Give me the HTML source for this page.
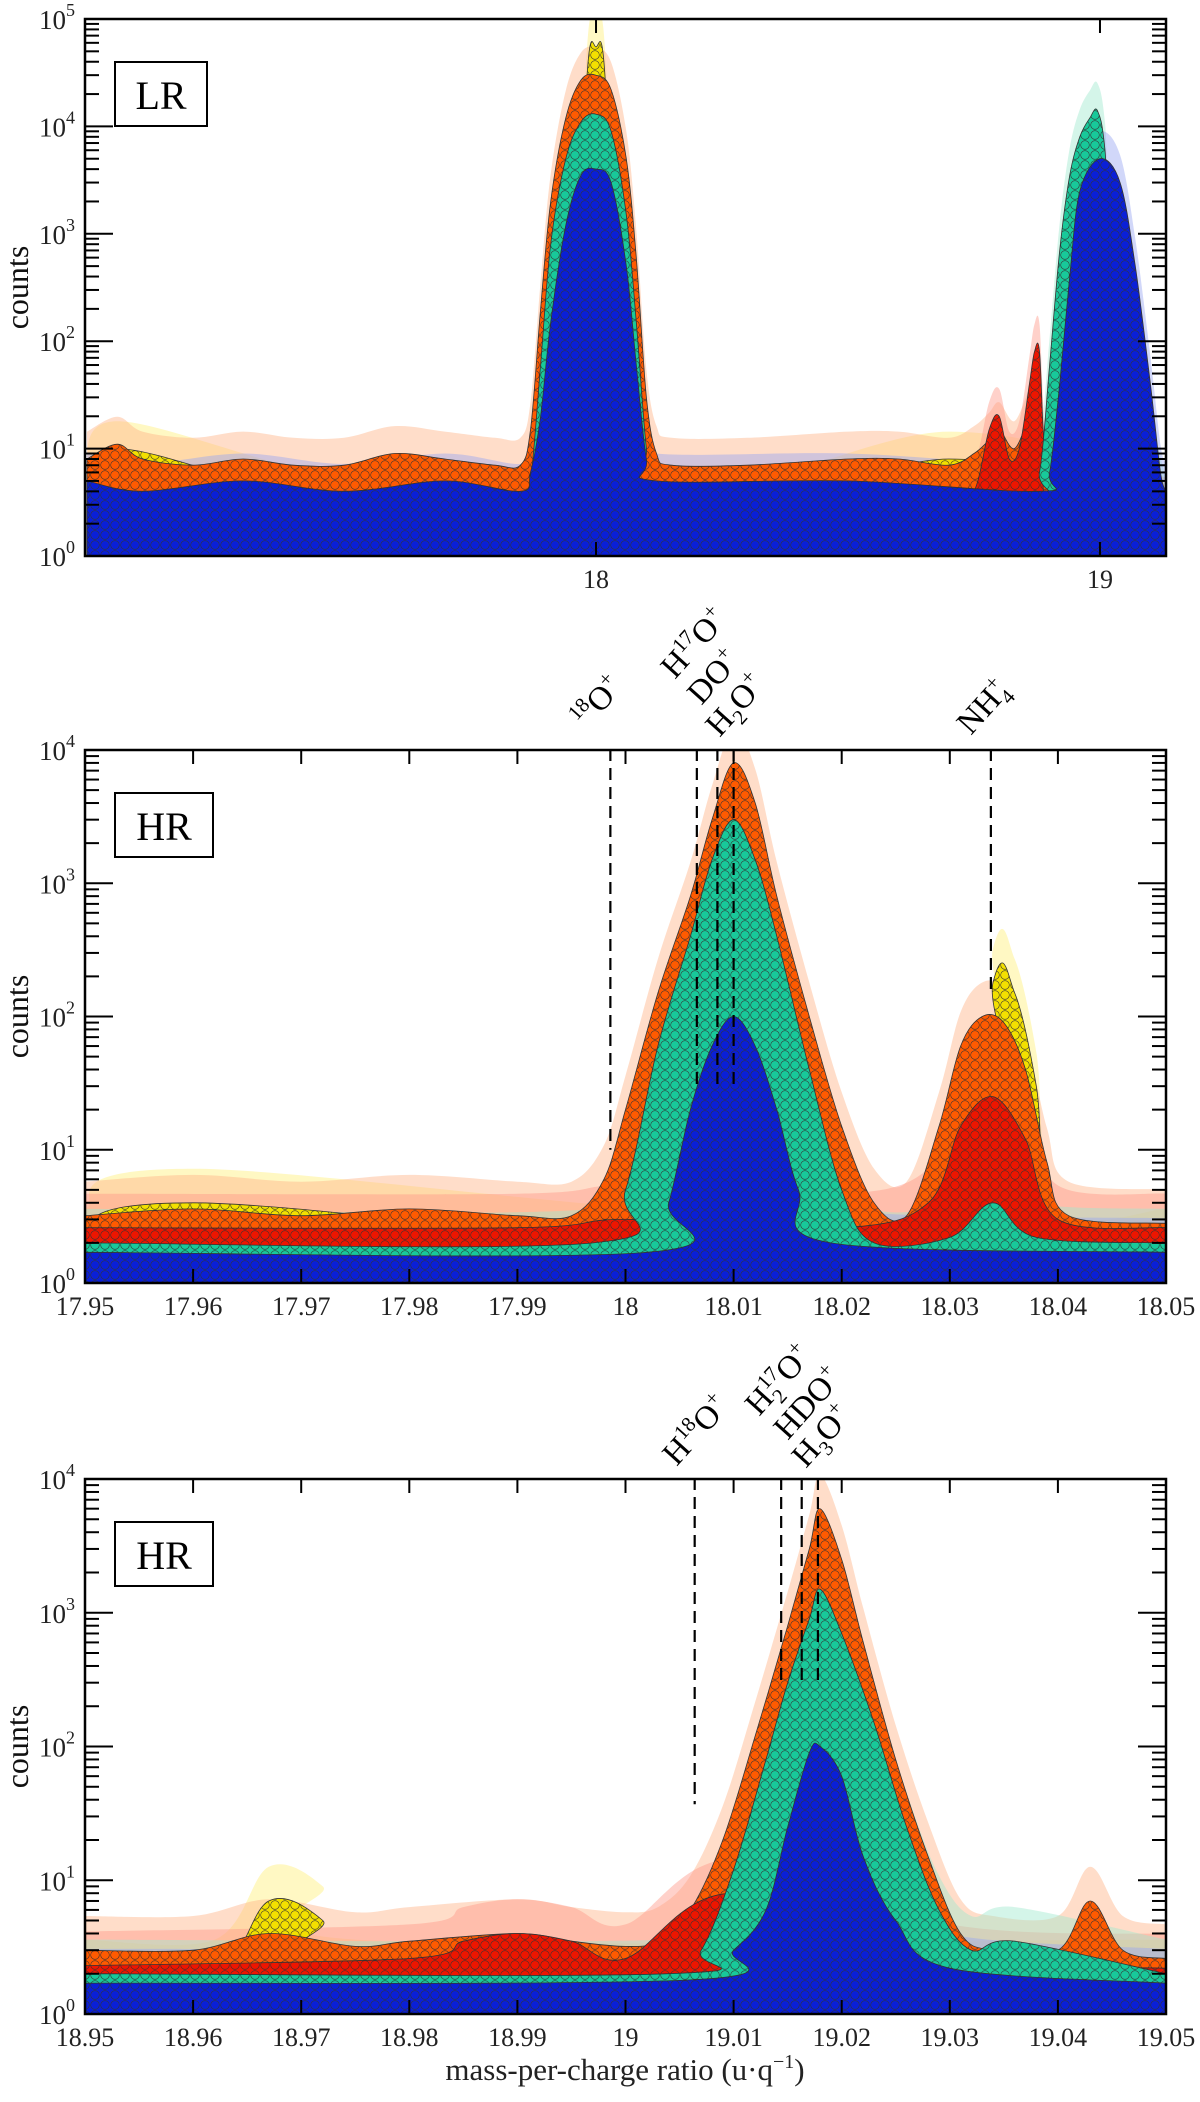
<!DOCTYPE html>
<html><head><meta charset="utf-8"><title>Mass spectra counts</title>
<style>
html,body{margin:0;padding:0;background:#fff;}
svg{display:block;font-family:"Liberation Serif",serif;}
</style></head>
<body>
<svg id="chart" width="1200" height="2102" viewBox="0 0 1200 2102" xmlns="http://www.w3.org/2000/svg">
<defs id="defs"></defs>
</svg>
<script>
// ---------- Panel 1 (LR) data ----------
const p1YellowX=[16.99,17.05,17.5,17.95,17.98,18.0,18.02,18.05,18.7,19.13];
const p1YellowY=[3,10,3,3,20000,55000,20000,3,8,3];
const p1OrangeX=[16.99,17.05,17.1,17.2,17.3,17.4,17.5,17.6,17.7,17.8,17.85,17.87,17.89,17.91,17.94,17.97,18.0,18.03,18.06,18.08,18.1,18.12,18.15,18.3,18.5,18.6,18.7,18.75,18.78,18.8,18.83,18.86,18.88,18.9,19.13];
const p1OrangeY=[8,11,8,7,8,7,7,9,8,7,7,15,200,2000,12000,27000,30000,22000,5000,600,30,9,7,7,8,8,7,9,12,15,10,20,30,8,3];
const p1RedX=[16.99,17.5,18.7,18.75,18.78,18.8,18.82,18.84,18.86,18.87,18.88,18.89,18.91,19.13];
const p1RedY=[3,3,3,4,15,20,8,10,40,80,80,10,3,3];
const p1TealX=[16.99,17.85,17.87,17.89,17.91,17.94,17.97,18.0,18.03,18.06,18.08,18.1,18.12,18.85,18.88,18.9,18.92,18.94,18.96,18.98,18.995,19.01,19.03,19.13];
const p1TealY=[3,3,5,60,800,5000,11000,13000,9000,1500,150,10,3,3,6,60,700,3500,8000,12000,14000,6000,300,3];
const p1BlueX=[16.99,17.1,17.3,17.5,17.7,17.85,17.87,17.89,17.91,17.94,17.97,18.0,18.03,18.06,18.08,18.1,18.12,18.5,18.88,18.9,18.92,18.94,18.96,19.0,19.04,19.07,19.1,19.12,19.131];
const p1BlueY=[5,4,5,4,5,4,6,20,150,1200,3500,4000,3000,500,60,8,5,5,4,6,40,400,2500,5000,3000,500,40,6,4];
const p1TickValues=[18,19];
const p1TickLabels=["18","19"];

// ---------- Panel 2 (HR, 18) data ----------
const p2YellowX=[17.95,17.96,18.03,18.034,18.036,18.038,18.04,18.05];
const p2YellowY=[2,4,2,180,150,30,2,2];
const p2OrangeX=[17.95,17.96,17.97,17.98,17.99,17.995,17.998,18.0,18.003,18.006,18.008,18.01,18.012,18.014,18.017,18.02,18.023,18.026,18.029,18.031,18.033,18.035,18.037,18.039,18.041,18.05];
const p2OrangeY=[3.2,3.6,3.2,3.6,3.2,3.2,6,20,150,800,3000,8000,4000,800,100,15,4,3.2,15,60,100,90,40,8,3.2,2.8];
const p2RedX=[17.95,17.99,18.0,18.02,18.028,18.031,18.034,18.037,18.04,18.05];
const p2RedY=[2.6,2.6,3,2.6,4,15,25,12,3,2.6];
const p2TealX=[17.95,17.997,18.0,18.003,18.006,18.008,18.01,18.012,18.014,18.017,18.02,18.023,18.03,18.034,18.038,18.05];
const p2TealY=[2,2,5,60,400,1500,3000,1500,400,40,5,2,2.2,4,2.2,2];
const p2BlueX=[17.95,18.002,18.004,18.006,18.008,18.01,18.012,18.014,18.016,18.019,18.05];
const p2BlueY=[1.7,1.7,4,20,60,100,60,20,5,2,1.7];
const p2TickValues=[17.95,17.96,17.97,17.98,17.99,18.0,18.01,18.02,18.03,18.04,18.05];
const p2TickLabels=["17.95","17.96","17.97","17.98","17.99","18","18.01","18.02","18.03","18.04","18.05"];
const p2LineMass=[17.9986,18.0066,18.0085,18.0100,18.0338];
const p2LineEnd=[10,30,30,30,150];

// ---------- Panel 3 (HR, 19) data ----------
const p3YellowX=[18.95,18.962,18.967,18.972,18.975,19.05];
const p3YellowY=[2,2,7,5,2,2];
const p3OrangeX=[18.95,18.96,18.967,18.975,18.98,18.99,18.995,19.0,19.003,19.006,19.009,19.012,19.015,19.017,19.018,19.02,19.022,19.025,19.028,19.031,19.034,19.04,19.043,19.046,19.05];
const p3OrangeY=[3,3,4,3.2,3.5,4,3.5,3.2,3.5,6,20,120,800,3000,6000,2500,600,80,15,4,3,3,7,3,2.6];
const p3RedX=[18.95,18.98,18.985,18.99,18.995,19.0,19.01,19.03,19.05];
const p3RedY=[2.3,2.6,3.5,4,3.5,2.6,8,2.6,2.2];
const p3TealX=[18.95,19.004,19.007,19.01,19.013,19.015,19.017,19.018,19.02,19.023,19.026,19.029,19.032,19.036,19.05];
const p3TealY=[2,2,3,12,80,300,900,1500,700,150,25,6,3,3.5,2];
const p3BlueX=[18.95,19.006,19.01,19.013,19.015,19.017,19.018,19.02,19.022,19.025,19.03,19.05];
const p3BlueY=[1.7,1.8,3,6,25,90,100,60,15,5,2.2,1.7];
const p3TickValues=[18.95,18.96,18.97,18.98,18.99,19.0,19.01,19.02,19.03,19.04,19.05];
const p3TickLabels=["18.95","18.96","18.97","18.98","18.99","19","19.01","19.02","19.03","19.04","19.05"];
const p3LineMass=[19.0064,19.0144,19.0163,19.0178];
const p3LineEnd=[37,300,300,300];

const NS="http://www.w3.org/2000/svg";
const svg=document.getElementById('chart');
const defs=document.getElementById('defs');
function el(tag,attrs,parent){const e=document.createElementNS(NS,tag);for(const k in attrs)e.setAttribute(k,attrs[k]);(parent||svg).appendChild(e);return e;}

const colors={yellow:"#f3e000",orange:"#ff5a00",red:"#ee1500",teal:"#18c99a",blue:"#0a1fd8"};
const bands={yellow:"#fff07a",orange:"#ffb488",red:"#ff9a8a",teal:"#9fe8cf",blue:"#9aa6f2"};
for(const c in colors){
  const p=el('pattern',{id:'pat-'+c,width:10,height:10,patternUnits:'userSpaceOnUse'},defs);
  el('rect',{width:10,height:10,fill:colors[c]},p);
  el('circle',{cx:5,cy:5,r:4.3,fill:colors[c],stroke:'#333','stroke-width':0.6},p);
}

function smoothPath(pts){
  let d='';
  for(let i=0;i<pts.length-1;i++){
    const p0=pts[Math.max(0,i-1)],p1=pts[i],p2=pts[i+1],p3=pts[Math.min(pts.length-1,i+2)];
    const c1x=p1[0]+(p2[0]-p0[0])/6,c1y=p1[1]+(p2[1]-p0[1])/6;
    const c2x=p2[0]-(p3[0]-p1[0])/6,c2y=p2[1]-(p3[1]-p1[1])/6;
    d+=' C'+c1x.toFixed(1)+','+c1y.toFixed(1)+' '+c2x.toFixed(1)+','+c2y.toFixed(1)+' '+p2[0].toFixed(1)+','+p2[1].toFixed(1);
  }
  return d;
}

function makePanel(cfg){
  const g=el('g',{});
  
  
  const X=v=>cfg.x0+(v-cfg.dom[0])/(cfg.dom[1]-cfg.dom[0])*(cfg.x1-cfg.x0);
  const Y=v=>cfg.yb-Math.log10(v)/cfg.dec*(cfg.yb-cfg.yt);
  const cid='clip-'+cfg.name;
  const cp=el('clipPath',{id:cid},defs);
  el('rect',{x:cfg.x0,y:cfg.yt,width:cfg.x1-cfg.x0,height:cfg.yb-cfg.yt},cp);
  const dg=el('g',{'clip-path':'url(#'+cid+')'},g);
  
  
  function area(xs,ys,mult){
    const pts=xs.map((x,i)=>[X(x),Y(Math.max(1,ys[i]*mult))]);
    let d='M'+X(xs[0])+','+(cfg.yb+5)+' L'+pts[0][0].toFixed(1)+','+pts[0][1].toFixed(1);
    d+=smoothPath(pts);
    d+=' L'+X(xs[xs.length-1])+','+(cfg.yb+5)+' Z';return d;
  }
  cfg.layers.forEach(L=>{
    const b=el('path',{d:area(L.x,L.y,1.8),fill:bands[L.c],opacity:0.45},dg);
    
    
  });
  cfg.layers.forEach(L=>{
    const p=el('path',{d:area(L.x,L.y,1),fill:'url(#pat-'+L.c+')',stroke:'#333','stroke-width':0.8},dg);
    
    
  });
  const fr=el('rect',{x:cfg.x0,y:cfg.yt,width:cfg.x1-cfg.x0,height:cfg.yb-cfg.yt,fill:'none',stroke:'#000','stroke-width':2.5},g);
  
  
  for(let k=0;k<=cfg.dec;k++){
    const y=Y(Math.pow(10,k));
    el('line',{x1:cfg.x0,x2:cfg.x0+28,y1:y,y2:y,stroke:'#000','stroke-width':2},g);
    el('line',{x1:cfg.x1,x2:cfg.x1-28,y1:y,y2:y,stroke:'#000','stroke-width':2},g);
    const t=el('text',{x:cfg.x0-10,y:y+10,'text-anchor':'end','font-size':27,fill:'#222'},g);
    
    
    t.textContent='10';
    const s=el('tspan',{dy:-13,'font-size':18},t);s.textContent=String(k);
    if(k<cfg.dec){for(let m=2;m<=9;m++){const ym=Y(m*Math.pow(10,k));
      el('line',{x1:cfg.x0,x2:cfg.x0+14,y1:ym,y2:ym,stroke:'#000','stroke-width':2},g);
      el('line',{x1:cfg.x1,x2:cfg.x1-14,y1:ym,y2:ym,stroke:'#000','stroke-width':2},g);}}
  }
  cfg.ticks.forEach((v,i)=>{
    const x=X(v);
    el('line',{x1:x,x2:x,y1:cfg.yt,y2:cfg.yt+14,stroke:'#000','stroke-width':2},g);
    el('line',{x1:x,x2:x,y1:cfg.yb,y2:cfg.yb-14,stroke:'#000','stroke-width':2},g);
    const t=el('text',{x:x,y:cfg.yb+32,'text-anchor':'middle','font-size':26,fill:'#222'},g);
    
    
    t.textContent=cfg.tickLabels[i];
  });
  const yt=el('text',{x:0,y:0,'text-anchor':'middle','font-size':32,fill:'#111',transform:'translate(28,'+((cfg.yt+cfg.yb)/2)+') rotate(-90)'},g);
  
  
  yt.textContent='counts';
  const bx=el('rect',{x:cfg.x0+30,y:cfg.yt+43,width:cfg.badgeW,height:64,fill:'#fff',stroke:'#000','stroke-width':2},g);
  
  
  const bt=el('text',{x:cfg.x0+30+cfg.badgeW/2,y:cfg.yt+90,'text-anchor':'middle','font-size':40,fill:'#000'},g);
  
  
  bt.textContent=cfg.badge;
  (cfg.lines||[]).forEach((v,i)=>{
    const x=X(v);
    const yEnd=Y(cfg.lineEnd[i]);
    const ln=el('line',{x1:x,x2:x,y1:cfg.yt,y2:yEnd,stroke:'#000','stroke-width':2.2,'stroke-dasharray':'12,7','stroke-dashoffset':-18},g);
    
    
    const lb=cfg.labels[i];
    const t=el('text',{x:0,y:0,'font-size':33,fill:'#000',transform:'translate('+(x+lb.dx)+','+(cfg.yt+lb.dy)+') rotate(-48)'},g);
    
    
    let cur=0;
    lb.parts.forEach(pp=>{
      const target=pp[1]==='sup'?-13:pp[1]==='sub'?8:0;
      const attrs={dy:target-cur};
      if(pp[1])attrs['font-size']=21;
      if(pp[2])attrs.dx=pp[2];
      const s=el('tspan',attrs,t);s.textContent=pp[0];cur=target;
    });
  });
  return {X,Y};
}

makePanel({name:'lr-panel',x0:85,x1:1166,yt:19,yb:556,dec:5,dom:[16.986,19.131],
  ticks:p1TickValues,tickLabels:p1TickLabels,badge:'LR',badgeW:92,
  layers:[{c:'yellow',x:p1YellowX,y:p1YellowY},{c:'orange',x:p1OrangeX,y:p1OrangeY},{c:'red',x:p1RedX,y:p1RedY},{c:'teal',x:p1TealX,y:p1TealY},{c:'blue',x:p1BlueX,y:p1BlueY}]});

makePanel({name:'hr-panel-18',x0:85,x1:1166,yt:750,yb:1283,dec:4,dom:[17.95,18.05],
  ticks:p2TickValues,tickLabels:p2TickLabels,badge:'HR',badgeW:98,
  layers:[{c:'yellow',x:p2YellowX,y:p2YellowY},{c:'orange',x:p2OrangeX,y:p2OrangeY},{c:'red',x:p2RedX,y:p2RedY},{c:'teal',x:p2TealX,y:p2TealY},{c:'blue',x:p2BlueX,y:p2BlueY}],
  lines:p2LineMass,lineEnd:p2LineEnd,
  labels:[
    {dx:-24,dy:-20,parts:[['18','sup'],['O',null],['+','sup']]},
    {dx:-22,dy:-70,parts:[['H',null],['17','sup'],['O',null],['+','sup']]},
    {dx:-16,dy:-44,parts:[['DO',null],['+','sup']]},
    {dx:-14,dy:-12,parts:[['H',null],['2','sub'],['O',null],['+','sup']]},
    {dx:-20,dy:-14,parts:[['NH',null],['+','sup'],['4','sub',-11]]}
  ]});

makePanel({name:'hr-panel-19',x0:85,x1:1166,yt:1479,yb:2014,dec:4,dom:[18.95,19.05],
  ticks:p3TickValues,tickLabels:p3TickLabels,badge:'HR',badgeW:98,
  layers:[{c:'yellow',x:p3YellowX,y:p3YellowY},{c:'orange',x:p3OrangeX,y:p3OrangeY},{c:'red',x:p3RedX,y:p3RedY},{c:'teal',x:p3TealX,y:p3TealY},{c:'blue',x:p3BlueX,y:p3BlueY}],
  lines:p3LineMass,lineEnd:p3LineEnd,
  labels:[
    {dx:-18,dy:-12,parts:[['H',null],['18','sup'],['O',null],['+','sup']]},
    {dx:-22,dy:-62,parts:[['H',null],['2','sub'],['17','sup',-10],['O',null],['+','sup']]},
    {dx:-14,dy:-38,parts:[['HDO',null],['+','sup']]},
    {dx:-12,dy:-10,parts:[['H',null],['3','sub'],['O',null],['+','sup']]}
  ]});

const xt=el('text',{x:625,y:2080,'text-anchor':'middle','font-size':31,fill:'#222'});


xt.textContent='mass-per-charge ratio (u·q';
const xs=el('tspan',{dy:-12,'font-size':20},xt);xs.textContent='−1';
const xe=el('tspan',{dy:12},xt);xe.textContent=')';
</script>
</body></html>
